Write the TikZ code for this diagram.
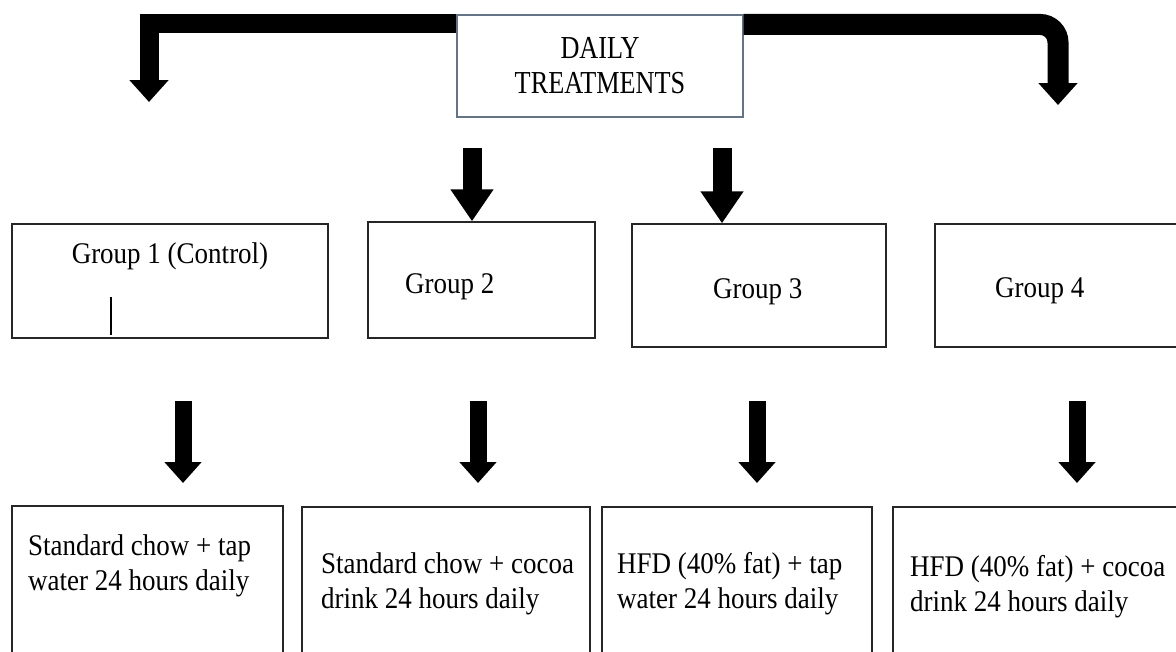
\documentclass[tikz,border=0pt]{standalone}
\usepackage{fontspec}
\setmainfont{Liberation Serif}[FakeStretch=0.9]
\newfontfamily\topfont{Liberation Serif}[FakeStretch=0.82]
\usepackage{tikz}
\usetikzlibrary{positioning}
\usetikzlibrary{arrows.meta}
\usetikzlibrary{calc}
\definecolor{boxedge}{RGB}{100,116,132}

\begin{document}
\begin{tikzpicture}[x=1pt, y=-1pt, line join=miter,
  box/.style={draw=black!85, line width=1.4pt, rectangle, inner sep=0pt},
  txt/.style={inner sep=0pt, font=\fontsize{30}{35}\selectfont, align=left},
  fat/.style={line width=#1, draw=black},
  tipbig/.style={-{Triangle[width=38pt,length=22pt]}},
  tipmid/.style={-{Triangle[width=41pt,length=32pt]}},
  tipsmall/.style={-{Triangle[width=36pt,length=21pt]}}]

\useasboundingbox (0,0) rectangle (1176,651);

% head box
\node [draw=boxedge, line width=1.1pt, minimum width=286pt, minimum height=102pt,
  align=center, font=\topfont\fontsize{32}{35}\selectfont] (daily) at (600,66) {DAILY\\TREATMENTS};

% groups
\node [box, minimum width=316pt, minimum height=114pt] (g1) at (170,281) {};
\node [box, minimum width=227pt, minimum height=116pt] (g2) at (481.5,280) {};
\node [box, minimum width=254pt, minimum height=123pt] (g3) at (759,285.5) {};
\node [box, minimum width=245pt, minimum height=123pt] (g4) at (1057.5,285.5) {};
\node [txt, anchor=base] (g1txt) at (170,263) {Group 1 (Control)};
\node [txt, anchor=base west] (g2txt) at (405,293) {Group 2};
\node [txt, anchor=base west] (g3txt) at (713,298) {Group 3};
\node [txt, anchor=base west] (g4txt) at (995,297) {Group 4};
\draw [line width=1.2pt] (111,297) -- (111,335);

% treatments
\node [box, minimum width=271pt, minimum height=154pt] (b1) at (147.5,583) {};
\node [box, minimum width=288pt, minimum height=153pt] (b2) at (446,583.5) {};
\node [box, minimum width=270pt, minimum height=153pt] (b3) at (737,583.5) {};
\node [box, minimum width=287pt, minimum height=153pt] (b4) at (1036.5,583.5) {};
\node [txt, anchor=north west] (b1txt) at (28,534.5) {Standard chow + tap\\water 24 hours daily};
\node [txt, anchor=north west] (b2txt) at (321,552.5) {Standard chow + cocoa\\drink 24 hours daily};
\node [txt, anchor=north west] (b3txt) at (617,552.5) {HFD (40\% fat) + tap\\water 24 hours daily};
\node [txt, anchor=north west] (b4txt) at (910,555.5) {HFD (40\% fat) + cocoa\\drink 24 hours daily};

% bent arrows from head box
\coordinate (ltip) at (149,102);
\coordinate (rtip) at (1058,105);
\draw [fat=19pt, tipbig] ([yshift=-9pt]daily.north west) -| (ltip);
\draw [fat=21pt, tipbig, rounded corners=18pt] ([yshift=-10pt]daily.north east) -| (rtip);

% arrows into groups 2 and 3
\coordinate (m2) at (472,148);
\coordinate (m3) at (722,148);
\draw [fat=19pt, tipmid] (m2) -- (m2 |- g2.north);
\draw [fat=19pt, tipmid] (m3) -- (m3 |- g3.north);

% arrows from groups to treatments
\coordinate (s1) at (183,401);
\coordinate (e1) at (183,483);
\coordinate (s2) at (478,401);
\coordinate (e2) at (478,483);
\coordinate (s3) at (757,401);
\coordinate (e3) at (757,483);
\coordinate (s4) at (1077,401);
\coordinate (e4) at (1077,483);
\draw [fat=17pt, tipsmall] (s1) -- (e1);
\draw [fat=17pt, tipsmall] (s2) -- (e2);
\draw [fat=17pt, tipsmall] (s3) -- (e3);
\draw [fat=17pt, tipsmall] (s4) -- (e4);

\end{tikzpicture}
\end{document}
